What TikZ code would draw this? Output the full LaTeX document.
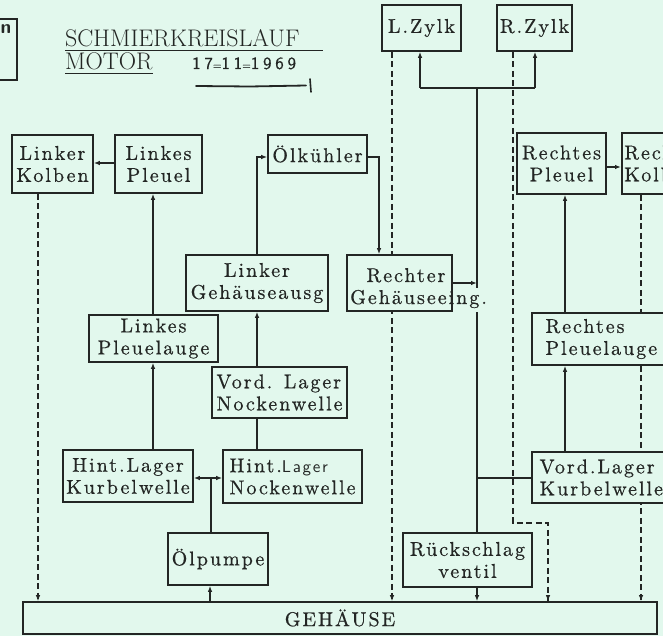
\documentclass[tikz,border=0pt]{standalone}
\usepackage{fontspec}
\usetikzlibrary{arrows.meta}
\definecolor{bg}{RGB}{226,248,237}
\definecolor{ink}{RGB}{35,38,36}
\newfontfamily\bxfam[LetterSpace=10,FakeBold=0.6]{lmroman10-regular.otf}
\newfontfamily\datefam[LetterSpace=22,FakeBold=0.5]{lmsans10-regular.otf}
\newfontfamily\lagerfam[LetterSpace=10]{lmsans10-regular.otf}
\newcommand\bxf{\bxfam\fontsize{20}{22}\selectfont}
\newcommand\ttlf{\fontsize{24}{26}\selectfont}
\newcommand\datef{\datefam\fontsize{17}{19}\selectfont}
\begin{document}
\begin{tikzpicture}[x=1pt,y=-1pt,
  bx/.style={draw=ink, line width=1.6pt, fill=bg, inner sep=2pt, text=ink, font=\bxf, align=center},
  txt/.style={inner sep=0pt, text=ink, font=\bxf},
  con/.style={draw=ink, line width=1.2pt},
  arr/.style={con, -{Latex[length=6pt,width=4.5pt]}},
  dsh/.style={draw=ink, line width=1.6pt, dash pattern=on 6pt off 3.5pt},
  darr/.style={dsh, -{Latex[length=6pt,width=4.5pt]}}]
\useasboundingbox (0,0) rectangle (663,636);
\fill[bg] (0,0) rectangle (663,636);
\clip (0,0) rectangle (663,636);

% top-left partial box
\draw[ink, line width=1.6pt] (-10,19) rectangle (17,80);
\node[inner sep=0pt, text=ink, font=\sffamily\bfseries\fontsize{19}{20}\selectfont] (nn) at (6,29) {n};

% title
\node[inner sep=0pt, anchor=base west, text=ink, font=\ttlf] (t1) at (65,47) {SCHMIERKREISLAUF};
\draw[ink, line width=1.4pt] (65,50.5) -- (323,50.5);
\node[inner sep=0pt, anchor=base west, text=ink, font=\ttlf] (t2) at (65,70) {MOTOR};
\draw[ink, line width=1.4pt] (65,73.5) -- (153,73.5);
\node[inner sep=0pt, anchor=base west, text=ink, font=\datef] (dt) at (192,69) {17{\fontsize{11}{12}\selectfont=}11{\fontsize{11}{12}\selectfont=}1969};
\draw[ink, line width=1.8pt, line cap=round] (196,86) -- (250,86.5) -- (306,85.5);
\draw[ink, line width=1.6pt, line cap=round] (310,79) -- (311,92);

% dashed lines behind boxes
\coordinate (d1) at (38,602);
\coordinate (d2) at (392,602);
\coordinate (d3a) at (513,523);
\coordinate (d3b) at (548,523);
\coordinate (d4) at (641,602);

% boxes
\node[bx, minimum width=79pt, minimum height=46pt] (lz) at (421.5,28) {L.Zylk};
\node[bx, minimum width=75pt, minimum height=46pt] (rz) at (534.5,28) {R.Zylk};
\node[bx, minimum width=81pt, minimum height=58pt] (lko) at (52.5,164) {Linker\\Kolben};
\node[bx, minimum width=87pt, minimum height=58pt] (lpl) at (158.5,164) {Linkes\\Pleuel};
\node[bx, minimum width=99pt, minimum height=38pt] (ok) at (317.5,154) {Ölkühler};
\node[bx, minimum width=89pt, minimum height=61pt] (rpl) at (561.5,163.5) {Rechtes\\Pleuel};
\node[bx, minimum width=84pt, minimum height=61pt, align=left, anchor=west] (rko) at (621,163.5) {Rechter\\Kolben};

\draw[dsh] (lko.south -| d1) -- (d1);
\draw[dsh] (lz.south -| d2) -- (d2);
\draw[dsh] (rz.south -| d3a) -- (d3a) -- (d3b) -- (d3b |- 0,602);
\draw[dsh] (rko.south -| d4) -- (d4);

\node[bx, minimum width=142pt, minimum height=56pt] (lga) at (257,283) {Linker\\Gehäuseausg};
\node[bx, minimum width=105pt, minimum height=56pt] (rge) at (399.5,283) {};
\node[txt, anchor=base] (rget1) at (406,282) {Rechter};
\node[txt, anchor=base west] (rget2) at (350,304) {Gehäuseeing.};
\node[bx, minimum width=129pt, minimum height=47pt] (lpa) at (153.5,338.5) {Linkes\\Pleuelauge};
\node[bx, minimum width=139pt, minimum height=52pt, align=left, anchor=west] (rpa) at (531,339) {Rechtes\\Pleuelauge};
\node[bx, minimum width=135pt, minimum height=51pt, align=left] (vln) at (279.5,392.5) {Vord. Lager\\Nockenwelle};
\node[bx, minimum width=130pt, minimum height=52pt] (hlk) at (128,476) {Hint.Lager\\Kurbelwelle};
\node[bx, minimum width=139pt, minimum height=53pt, align=left] (hln) at (292.5,476.5) {Hint.{\lagerfam\fontsize{17}{22}\selectfont Lager}\\Nockenwelle};
\node[bx, minimum width=139pt, minimum height=51pt, align=left, anchor=west] (vlk) at (531,477.5) {Vord.Lager\\Kurbelwelle};
\node[bx, minimum width=100pt, minimum height=52pt] (olp) at (218,559) {Ölpumpe};
\node[bx, minimum width=129pt, minimum height=54pt] (rv) at (467.5,560) {Rückschlag\\ventil};
\node[bx, minimum width=634pt, minimum height=32pt] (gh) at (340,618) {GEHÄUSE};

% dashed arrow tips
\draw[darr] (38,596) -- (d1 |- gh.north);
\draw[darr] (392,596) -- (d2 |- gh.north);
\draw[darr] (548,596) -- (d3b |- gh.north);
\draw[darr] (641,596) -- (d4 |- gh.north);

% solid connectors
\draw[arr] (lpl.west |- 0,163) -- (lko.east |- 0,163);
\draw[arr] (lpa.north -| 153,0) -- (lpl.south -| 153,0);
\draw[arr] (hlk.north -| 153,0) -- (lpa.south -| 153,0);
\draw[arr] (vln.north -| 257,0) -- (lga.south -| 257,0);
\draw[con] (hln.north -| 257,0) -- (vln.south -| 257,0);
\draw[arr] (lga.north -| 257,0) -- (257,157) -- (ok.west |- 0,157);
\draw[arr] (ok.east |- 0,157) -- (379,157) -- (379,0 |- rge.north);

\coordinate (tt) at (477,88);
\draw[con] (tt) -- (477,288);
\draw[con] (477,312) -- (tt |- rv.north);
\draw[arr] (rge.east |- 0,283) -- (477,283);
\draw[con] (vlk.west |- 0,478) -- (477,478);
\draw[con] (420,88) -- (535,88);
\draw[arr] (420,88) -- (420,0 |- lz.south);
\draw[arr] (535,88) -- (535,0 |- rz.south);
\draw[arr] (rv.south -| tt) -- (tt |- gh.north);

\draw[arr] (vlk.north -| 565,0) -- (rpa.south -| 565,0);
\draw[arr] (rpa.north -| 565,0) -- (rpl.south -| 565,0);
\draw[arr] (rpl.east |- 0,167) -- (rko.west |- 0,167);

\draw[arr] (gh.north -| 210,0) -- (olp.south -| 210,0);
\coordinate (pj) at (211,478);
\draw[con] (olp.north -| pj) -- (pj);
\draw[arr] (pj) -- (hlk.east |- pj);
\draw[arr] (pj) -- (hln.west |- pj);
\end{tikzpicture}
\end{document}
